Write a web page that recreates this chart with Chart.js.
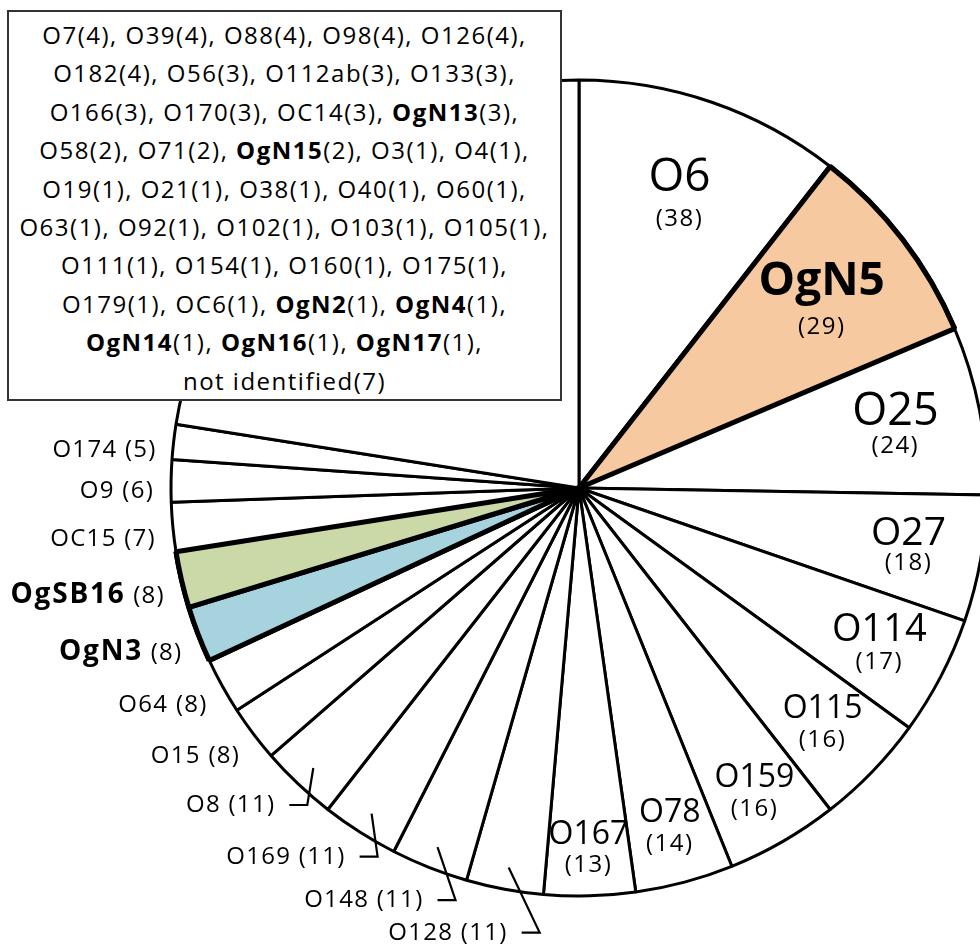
<!DOCTYPE html>
<html>
<head>
<meta charset="utf-8">
<title>Serotype distribution</title>
<script src="https://cdn.jsdelivr.net/npm/chart.js@4.4.1/dist/chart.umd.min.js"></script>
<style>
html, body { margin: 0; padding: 0; background: #fff; overflow: hidden; width: 980px; height: 948px; }
#wrap { position: relative; width: 1000px; height: 948px; }
#pie { position: absolute; left: 0; top: 0; }
.lbl { position: absolute; font-family: "Open Sans", sans-serif; color: #000; white-space: nowrap; line-height: 1; }
.lbl b { font-weight: 700; }
.cnt { font-size: 24px; letter-spacing: 1.5px; }
.out { font-size: 24px; letter-spacing: 1.3px; }
.out b { font-size: 28px; letter-spacing: 1.8px; }
#others {
    position: absolute; left: 7px; top: 10px; width: 551px; height: 383px;
    border: 2px solid #333; background: #fff; padding-top: 4px; box-sizing: content-box;
    font-family: "Open Sans", sans-serif; font-size: 24px; letter-spacing: 1.5px;
    line-height: 38.4px; text-align: center; color: #000; white-space: nowrap;
}
</style>
</head>
<body>
<div id="wrap">
    <canvas id="pie" width="1000" height="948"></canvas>
    <div id="others"></div>
</div>
<script>
// slices, clockwise from 12 o'clock
var serotypes = ['O6', 'OgN5', 'O25', 'O27', 'O114', 'O115', 'O159', 'O78', 'O167',
    'O128', 'O148', 'O169', 'O8', 'O15', 'O64', 'OgN3', 'OgSB16', 'OC15', 'O9', 'O174', 'others'];
var mainIsolates = [38, 29, 24, 18, 17, 16, 16, 14, 13, 11, 11, 11, 11, 8, 8, 8, 8, 7, 6, 5];

// serotypes grouped in the boxed slice
var otherSerotypes = ['O7', 'O39', 'O88', 'O98', 'O126', 'O182', 'O56', 'O112ab', 'O133',
    'O166', 'O170', 'OC14', 'OgN13', 'O58', 'O71', 'OgN15', 'O3', 'O4',
    'O19', 'O21', 'O38', 'O40', 'O60', 'O63', 'O92', 'O102', 'O103', 'O105',
    'O111', 'O154', 'O160', 'O175', 'O179', 'OC6', 'OgN2', 'OgN4',
    'OgN14', 'OgN16', 'OgN17', 'not identified'];
var otherIsolates = [4, 4, 4, 4, 4, 4, 3, 3, 3,
    3, 3, 3, 3, 2, 2, 2, 1, 1,
    1, 1, 1, 1, 1, 1, 1, 1, 1, 1,
    1, 1, 1, 1, 1, 1, 1, 1,
    1, 1, 1, 7];
var boxLineItems = [5, 4, 4, 5, 5, 5, 4, 4, 3, 1];

var othersTotal = otherIsolates.reduce(function(a, b) { return a + b; }, 0);
var isolates = mainIsolates.concat([othersTotal]);

var highlight = { 'OgN5': '#f7c9a1', 'OgSB16': '#cbd9a8', 'OgN3': '#a7d3df' };

// label placement: 'in' = inside slice, 'lead' = outside with leader, 'out' = outside, '' = none
var labelMode = ['in', 'in', 'in', 'in', 'in', 'in', 'in', 'in', 'in',
    'lead', 'lead', 'lead', 'lead', 'out', 'out', 'out', 'out', 'out', 'out', 'out', ''];
var inRadius = [0.757, 0.75, 0.79, 0.82, 0.83, 0.83, 0.86, 0.86, 0.885];
var inSize = [46, 46, 45, 39, 38, 32, 32, 32, 32];
var inGap = [23, 25, 19.5, 17, 18, 17, 17, 17, 16.5];
var leadElbow = { 'O128': [31, 65], 'O148': [18, 53], 'O169': [6, 43], 'O8': [-6, 37] };

var wrap = document.getElementById('wrap');

function nameHtml(name) {
    return name.indexOf('Og') === 0 ? '<b>' + name + '</b>' : name;
}

function addText(html, x, y, cls, align, size) {
    var el = document.createElement('div');
    el.className = 'lbl ' + cls;
    el.innerHTML = html;
    el.style.left = x + 'px';
    el.style.top = y + 'px';
    if (size) el.style.fontSize = size + 'px';
    el.style.transform = align === 'right' ? 'translate(-100%,-50%)' : 'translate(-50%,-50%)';
    wrap.appendChild(el);
}

function midPoint(arc, r) {
    var a = (arc.startAngle + arc.endAngle) / 2;
    return { x: arc.x + Math.cos(a) * r, y: arc.y + Math.sin(a) * r };
}

var sliceLabels = {
    id: 'sliceLabels',
    afterDatasetsDraw: function(chart) {
        var ctx = chart.ctx;
        var arcs = chart.getDatasetMeta(0).data;
        // coloured slices get their heavy outline on top of neighbours
        arcs.forEach(function(arc, i) {
            if (highlight[serotypes[i]]) arc.draw(ctx);
        });
        ctx.save();
        ctx.strokeStyle = '#000';
        ctx.lineWidth = 2.2;
        arcs.forEach(function(arc, i) {
            if (labelMode[i] !== 'lead') return;
            var p = midPoint(arc, arc.outerRadius - 22);
            var off = leadElbow[serotypes[i]];
            ctx.beginPath();
            ctx.moveTo(p.x, p.y);
            ctx.lineTo(p.x + off[0], p.y + off[1]);
            ctx.lineTo(p.x + off[0] - 18, p.y + off[1]);
            ctx.stroke();
        });
        ctx.restore();
    }
};

var chart = new Chart(document.getElementById('pie'), {
    type: 'pie',
    data: {
        labels: serotypes,
        datasets: [{
            data: isolates,
            backgroundColor: serotypes.map(function(s) { return highlight[s] || '#ffffff'; }),
            borderColor: '#000000',
            borderWidth: serotypes.map(function(s) { return highlight[s] ? 5 : 3; })
        }]
    },
    options: {
        responsive: false,
        animation: false,
        events: [],
        radius: 408,
        layout: { padding: { left: 171, right: 13, top: 80, bottom: 52 } },
        plugins: { legend: { display: false }, tooltip: { enabled: false } }
    },
    plugins: [sliceLabels]
});

// slice labels as page text
chart.getDatasetMeta(0).data.forEach(function(arc, i) {
    var name = serotypes[i], n = isolates[i], p, off;
    if (labelMode[i] === 'in') {
        p = midPoint(arc, arc.outerRadius * inRadius[i]);
        addText(nameHtml(name), p.x, p.y - inGap[i], '', 'center', inSize[i]);
        addText('(' + n + ')', p.x, p.y + inGap[i] - 2, 'cnt', 'center');
    } else if (labelMode[i] === 'out') {
        p = midPoint(arc, arc.outerRadius + 20);
        addText(nameHtml(name) + ' (' + n + ')', p.x + 3, p.y + 8, 'out', 'right');
    } else if (labelMode[i] === 'lead') {
        p = midPoint(arc, arc.outerRadius - 22);
        off = leadElbow[name];
        addText(name + ' (' + n + ')', p.x + off[0] - 32, p.y + off[1] - 2, 'out', 'right');
    }
});

// boxed list of the small serotypes
var lines = [], k = 0;
boxLineItems.forEach(function(count, li) {
    var parts = [];
    for (var j = 0; j < count; j++, k++) {
        parts.push(nameHtml(otherSerotypes[k]) + '(' + otherIsolates[k] + ')');
    }
    lines.push(parts.join(', ') + (li < boxLineItems.length - 1 ? ',' : ''));
});
document.getElementById('others').innerHTML = lines.join('<br>');
</script>
</body>
</html>
